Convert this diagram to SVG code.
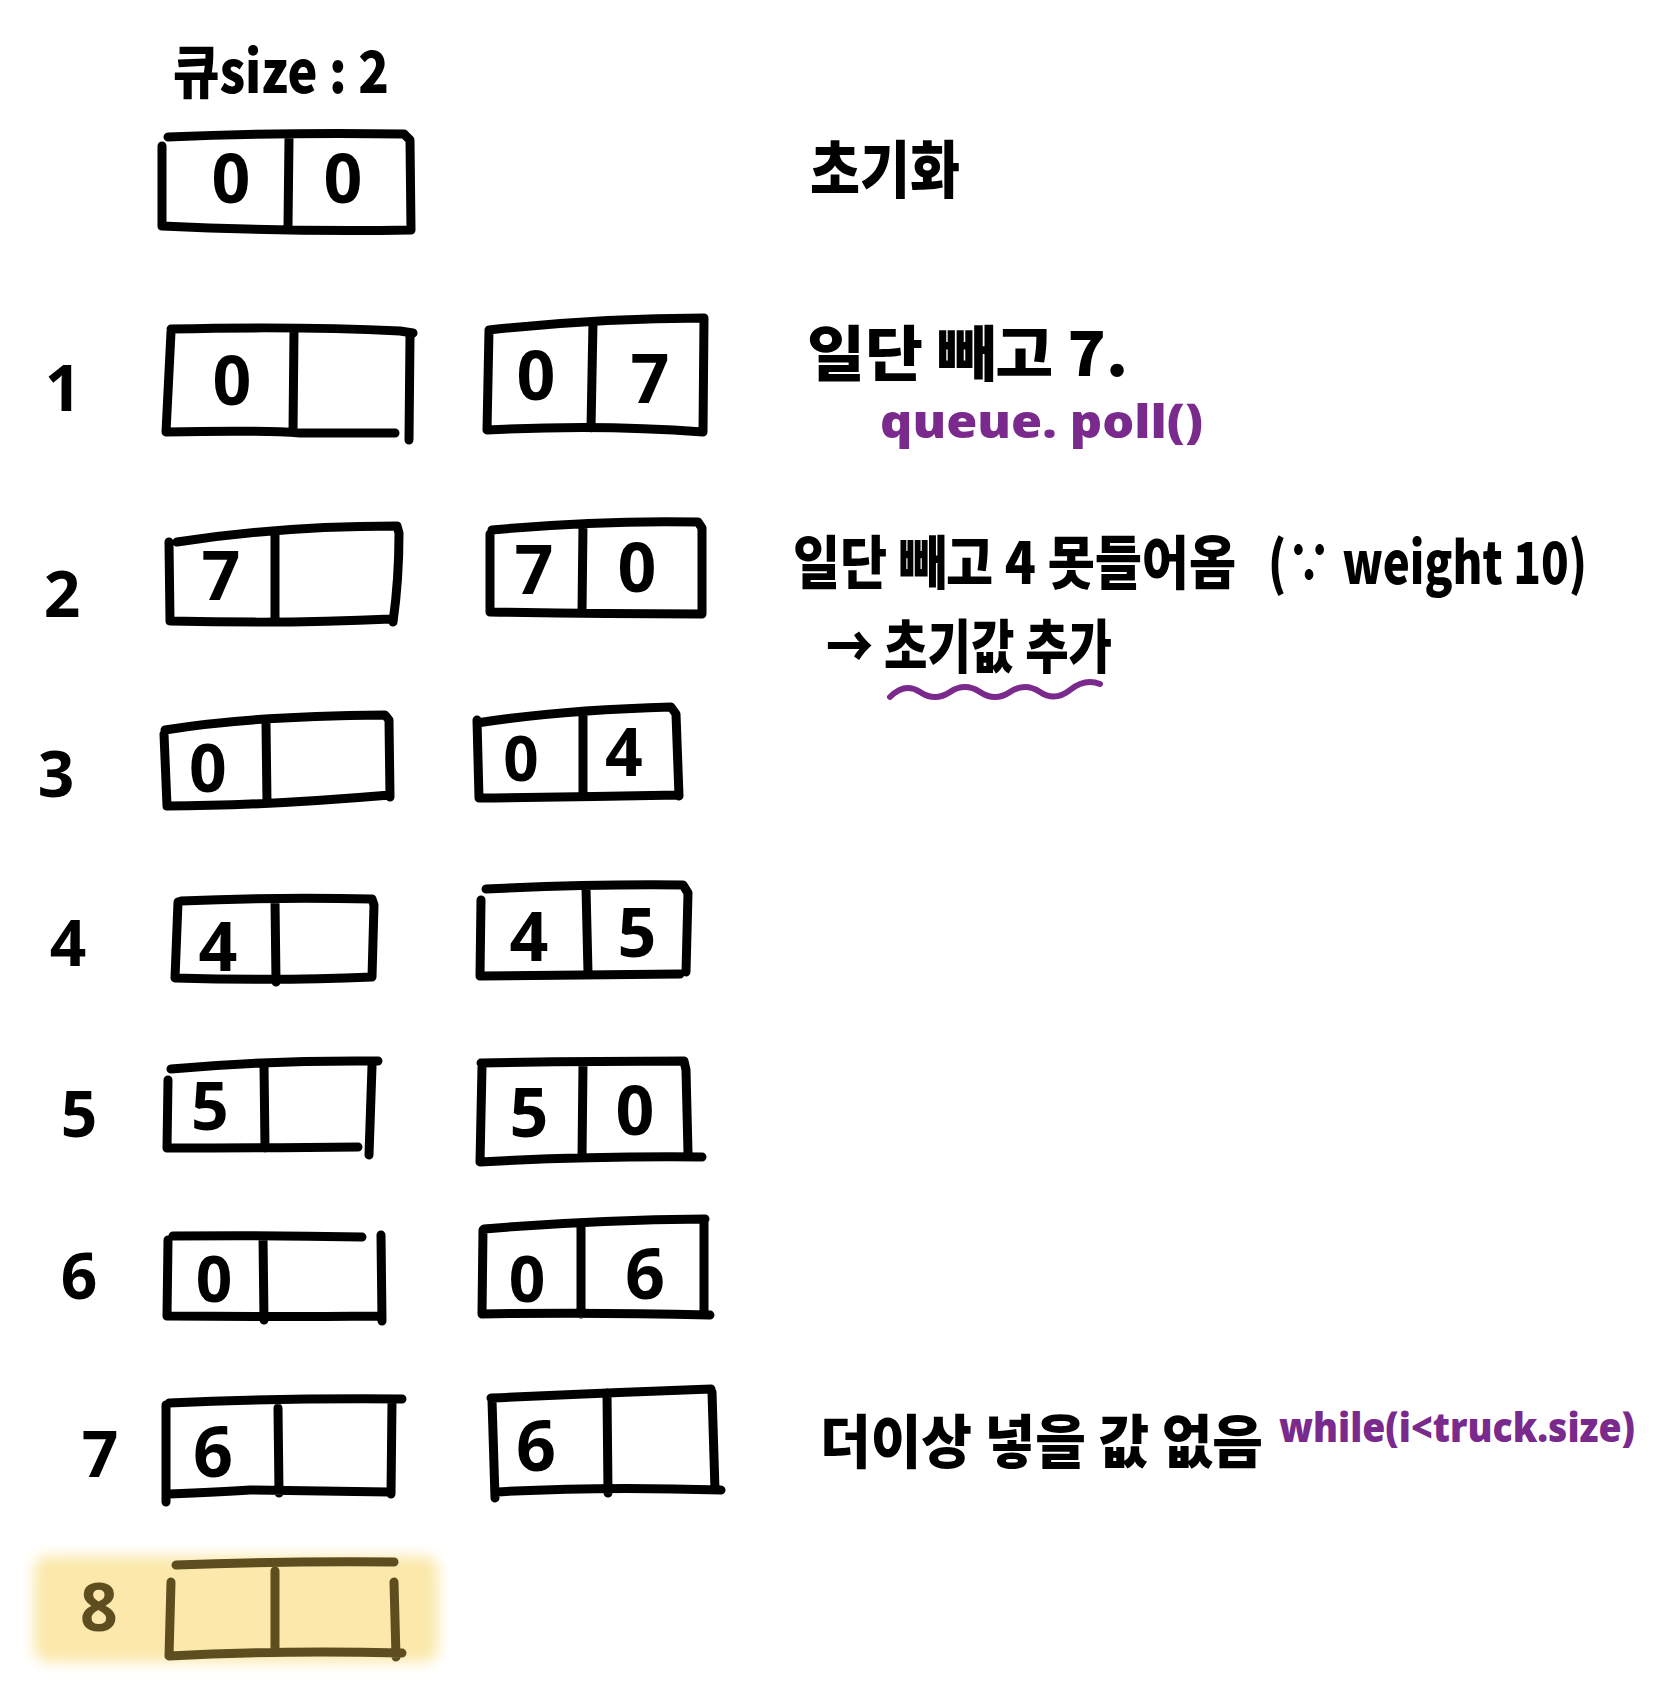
<svg xmlns="http://www.w3.org/2000/svg" width="1659" height="1693" viewBox="0 0 1659 1693">
<style>
.bx{fill:none;stroke:#000;stroke-width:9;stroke-linecap:round;stroke-linejoin:round}
.bx8{fill:none;stroke:#5e4d1f;stroke-width:9;stroke-linecap:round;stroke-linejoin:round}
.k{font-family:"Noto Sans CJK KR","Noto Sans",sans-serif;font-weight:900;fill:#000}
.d{font-family:"Noto Sans","DejaVu Sans",sans-serif;font-weight:700;fill:#000;text-anchor:middle;dominant-baseline:central}
.p{font-family:"Noto Sans","Noto Sans CJK KR",sans-serif;font-weight:900;fill:#7a2a8c}
</style>
<defs>
<filter id="blur" x="-10%" y="-20%" width="120%" height="140%"><feGaussianBlur stdDeviation="7"/></filter>
</defs>
<rect width="1659" height="1693" fill="#fff"/>

<g id="header">
<text class="k" x="173" y="93" font-size="58" textLength="216" lengthAdjust="spacingAndGlyphs">큐size : 2</text>
</g>

<g id="init">
<path class="bx" d="M168,137 Q290,132 404,134 L410,140 L411,230 M162,146 L162,226 Q290,232 411,230 M289,139 L288,226"/>
<text class="d" x="231" y="176" font-size="68">0</text>
<text class="d" x="343" y="176" font-size="68">0</text>
<text class="k" x="810" y="193" font-size="62" textLength="150" lengthAdjust="spacingAndGlyphs">초기화</text>
</g>

<g id="row1">
<text class="d" x="63" y="386" font-size="64">1</text>
<path class="bx" d="M171,329 Q300,326 400,331 L413,333 M171,332 L166,432 Q260,430 300,433 L395,433 M410,336 L409,440 M294,330 L293,432"/>
<text class="d" x="232" y="378" font-size="68">0</text>
<path class="bx" d="M489,330 Q600,318 704,318 L703,432 M489,330 L487,430 Q600,424 703,432 M593,322 L591,428"/>
<text class="d" x="536" y="373" font-size="68">0</text>
<text class="d" x="650" y="376" font-size="68">7</text>
<text class="k" x="807" y="376" font-size="60" textLength="321" lengthAdjust="spacingAndGlyphs">일단 빼고  7.</text>
<text class="p" x="880" y="438" font-size="46" textLength="323" lengthAdjust="spacingAndGlyphs">queue. poll()</text>
</g>

<g id="row2">
<text class="d" x="62" y="592" font-size="64">2</text>
<path class="bx" d="M177,542 Q280,526 397,526 L399,533 Q399,580 393,622 M169,542 L170,621 Q290,624 391,619 M275,533 L275,622"/>
<text class="d" x="221" y="573" font-size="68">7</text>
<path class="bx" d="M492,530 Q600,520 698,522 L702,528 L702,614 M490,534 L490,612 Q600,614 702,614 M583,525 L582,612"/>
<text class="d" x="534" y="567" font-size="68">7</text>
<text class="d" x="637" y="565" font-size="68">0</text>
<text class="k" x="793" y="584" font-size="58" textLength="443" lengthAdjust="spacingAndGlyphs">일단 빼고 4 못들어옴</text>
<text class="k" x="1268" y="584" font-size="58" textLength="319" lengthAdjust="spacingAndGlyphs">(∵ weight 10)</text>
<text class="k" x="826" y="668" font-size="58" textLength="286" lengthAdjust="spacingAndGlyphs">→ 초기값 추가</text>
<path d="M890,697 Q905,682 920,692 T950,692 T980,692 T1010,692 T1040,692 T1070,690 T1100,684" fill="none" stroke="#7a2a8c" stroke-width="6" stroke-linecap="round"/>
</g>

<g id="row3">
<text class="d" x="56" y="772" font-size="64">3</text>
<path class="bx" d="M165,730 Q250,716 385,715 L389,720 L390,797 M164,734 L167,806 Q260,806 390,795 M266,723 L267,803"/>
<text class="d" x="208" y="766" font-size="66">0</text>
<path class="bx" d="M477,723 Q560,710 671,707 L676,714 L679,796 M477,720 L479,798 Q580,797 679,795 M583,712 L583,796"/>
<text class="d" x="521" y="757" font-size="62">0</text>
<text class="d" x="624" y="750" font-size="66">4</text>
</g>

<g id="row4">
<text class="d" x="68" y="941" font-size="64">4</text>
<path class="bx" d="M181,901 Q270,897 372,899 L374,905 L372,977 M178,902 L175,978 Q280,981 372,977 M275,901 L276,982"/>
<text class="d" x="218" y="944" font-size="68">4</text>
<path class="bx" d="M486,889 Q590,884 683,885 L688,893 L686,972 M481,900 L480,976 Q580,975 680,974 M586,888 L588,973"/>
<text class="d" x="529" y="934" font-size="68">4</text>
<text class="d" x="637" y="930" font-size="68">5</text>
</g>

<g id="row5">
<text class="d" x="79" y="1112" font-size="64">5</text>
<path class="bx" d="M171,1069 Q270,1060 378,1061 M372,1066 L369,1155 M168,1080 L167,1148 Q270,1148 358,1147 M264,1064 L265,1148"/>
<text class="d" x="210" y="1104" font-size="66">5</text>
<path class="bx" d="M481,1063 Q590,1061 684,1061 L686,1070 L688,1153 M482,1067 L480,1162 Q590,1156 702,1157 M583,1064 L582,1158"/>
<text class="d" x="529" y="1110" font-size="68">5</text>
<text class="d" x="635" y="1108" font-size="68">0</text>
</g>

<g id="row6">
<text class="d" x="79" y="1274" font-size="64">6</text>
<path class="bx" d="M173,1236 Q270,1235 362,1237 M381,1235 L382,1321 M168,1240 L167,1316 Q270,1317 380,1316 M263,1237 L264,1320"/>
<text class="d" x="214" y="1277" font-size="64">0</text>
<path class="bx" d="M484,1229 Q590,1220 705,1219 M704,1222 L704,1314 M483,1230 L482,1314 Q590,1312 710,1315 M581,1225 L581,1314"/>
<text class="d" x="527" y="1277" font-size="64">0</text>
<text class="d" x="645" y="1272" font-size="70">6</text>
</g>

<g id="row7">
<text class="d" x="100" y="1452" font-size="64">7</text>
<path class="bx" d="M169,1403 Q280,1398 402,1399 M392,1402 L391,1494 M166,1405 L166,1502 M169,1494 Q220,1492 250,1490 L389,1492 M278,1408 L279,1493"/>
<text class="d" x="213" y="1450" font-size="70">6</text>
<path class="bx" d="M491,1398 Q600,1393 711,1389 M712,1392 L715,1490 M492,1400 L495,1498 M495,1492 Q600,1486 721,1490 M607,1393 L608,1493"/>
<text class="d" x="536" y="1444" font-size="70">6</text>
<text class="k" x="820" y="1463" font-size="58" textLength="443" lengthAdjust="spacingAndGlyphs">더이상 넣을 값 없음</text>
<text class="p" x="1279" y="1442" font-size="40" textLength="356" lengthAdjust="spacingAndGlyphs">while(i&lt;truck.size)</text>
</g>

<g id="row8">
<rect x="34" y="1556" width="404" height="106" rx="14" fill="#fbe8aa" filter="url(#blur)"/>
<text class="d" x="99" y="1605" font-size="66" style="fill:#5e4d1f">8</text>
<path class="bx8" d="M176,1565 Q280,1561 394,1562 M394,1582 L396,1657 M171,1582 L169,1656 Q280,1650 402,1653 M275,1571 L275,1652"/>
</g>
</svg>
